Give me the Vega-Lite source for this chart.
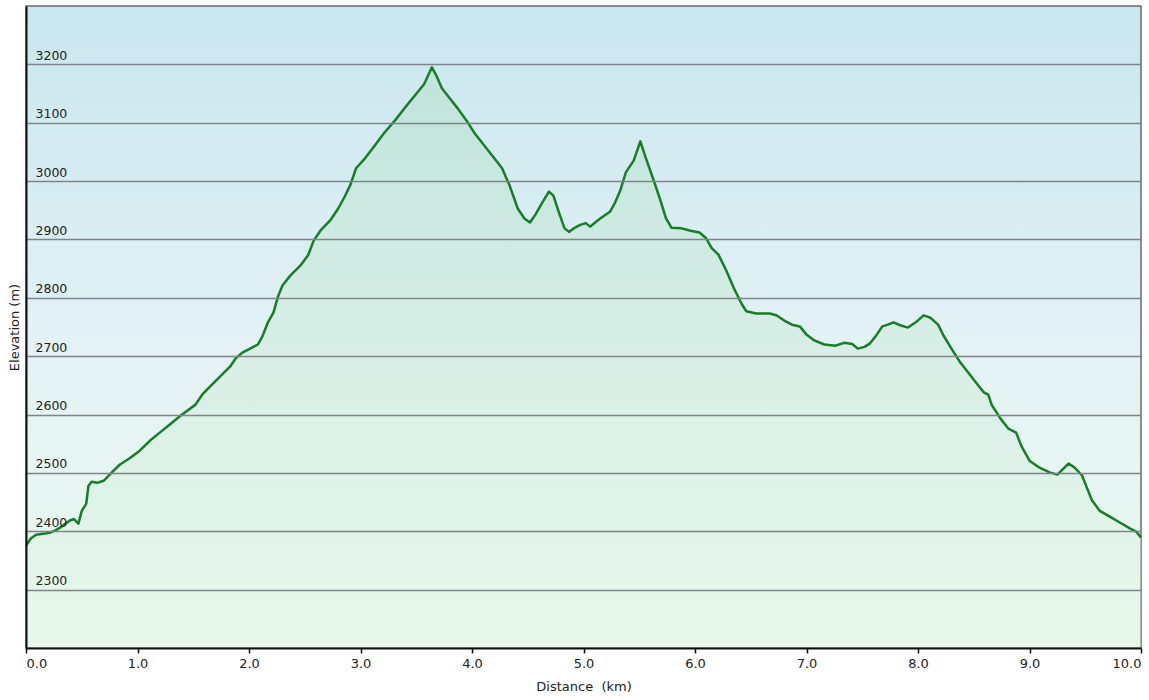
{
 "$schema": "https://vega.github.io/schema/vega-lite/v6.json",
 "width": 1115,
 "height": 642,
 "autosize": {"type": "none"},
 "padding": {"left": 26, "top": 6, "right": 8, "bottom": 52},
 "background": "white",
 "view": {
  "fill": {"gradient": "linear", "x1": 0, "y1": 0, "x2": 0, "y2": 1,
   "stops": [{"offset": 0, "color": "#c9e6ef"}, {"offset": 0.55, "color": "#e4f2f5"}, {"offset": 1, "color": "#eaf8ee"}]},
  "stroke": "#6b6b6b",
  "strokeWidth": 1.5
 },
 "config": {"font": "DejaVu Sans"},
 "data": {"values": [
  {"km":0.00,"elev":2375},{"km":0.04,"elev":2387},{"km":0.09,"elev":2394},{"km":0.17,"elev":2396},{"km":0.22,"elev":2398},
  {"km":0.26,"elev":2401},{"km":0.32,"elev":2408},{"km":0.39,"elev":2418},{"km":0.43,"elev":2421},{"km":0.47,"elev":2413},
  {"km":0.50,"elev":2435},{"km":0.54,"elev":2447},{"km":0.56,"elev":2478},{"km":0.59,"elev":2485},{"km":0.64,"elev":2483},
  {"km":0.70,"elev":2487},{"km":0.77,"elev":2501},{"km":0.84,"elev":2514},{"km":0.93,"elev":2525},{"km":1.02,"elev":2538},
  {"km":1.11,"elev":2555},{"km":1.20,"elev":2569},{"km":1.29,"elev":2583},{"km":1.38,"elev":2597},{"km":1.52,"elev":2617},
  {"km":1.58,"elev":2634},{"km":1.65,"elev":2648},{"km":1.74,"elev":2665},{"km":1.83,"elev":2682},{"km":1.88,"elev":2696},
  {"km":1.94,"elev":2706},{"km":2.01,"elev":2713},{"km":2.08,"elev":2720},{"km":2.12,"elev":2734},{"km":2.17,"elev":2758},
  {"km":2.22,"elev":2775},{"km":2.26,"elev":2802},{"km":2.30,"elev":2821},{"km":2.37,"elev":2838},{"km":2.46,"elev":2855},
  {"km":2.53,"elev":2873},{"km":2.58,"elev":2898},{"km":2.64,"elev":2915},{"km":2.73,"elev":2933},{"km":2.80,"elev":2953},
  {"km":2.86,"elev":2974},{"km":2.91,"elev":2994},{"km":2.96,"elev":3022},{"km":3.04,"elev":3039},{"km":3.12,"elev":3059},
  {"km":3.21,"elev":3082},{"km":3.31,"elev":3104},{"km":3.40,"elev":3126},{"km":3.48,"elev":3145},{"km":3.57,"elev":3166},
  {"km":3.64,"elev":3195},{"km":3.68,"elev":3181},{"km":3.73,"elev":3159},{"km":3.80,"elev":3142},{"km":3.87,"elev":3125},
  {"km":3.95,"elev":3104},{"km":4.02,"elev":3083},{"km":4.11,"elev":3061},{"km":4.20,"elev":3039},{"km":4.27,"elev":3022},
  {"km":4.34,"elev":2991},{"km":4.41,"elev":2953},{"km":4.47,"elev":2936},{"km":4.52,"elev":2929},{"km":4.57,"elev":2943},
  {"km":4.63,"elev":2963},{"km":4.69,"elev":2982},{"km":4.73,"elev":2975},{"km":4.78,"elev":2946},{"km":4.83,"elev":2919},
  {"km":4.87,"elev":2913},{"km":4.92,"elev":2920},{"km":4.97,"elev":2925},{"km":5.02,"elev":2928},{"km":5.06,"elev":2922},
  {"km":5.11,"elev":2930},{"km":5.15,"elev":2936},{"km":5.24,"elev":2948},{"km":5.28,"elev":2962},{"km":5.33,"elev":2984},
  {"km":5.38,"elev":3015},{"km":5.45,"elev":3035},{"km":5.51,"elev":3068},{"km":5.56,"elev":3039},{"km":5.63,"elev":3001},
  {"km":5.69,"elev":2967},{"km":5.74,"elev":2936},{"km":5.79,"elev":2920},{"km":5.88,"elev":2919},{"km":5.96,"elev":2915},
  {"km":6.04,"elev":2912},{"km":6.10,"elev":2902},{"km":6.15,"elev":2885},{"km":6.21,"elev":2874},{"km":6.28,"elev":2847},
  {"km":6.35,"elev":2816},{"km":6.42,"elev":2789},{"km":6.46,"elev":2777},{"km":6.55,"elev":2773},{"km":6.67,"elev":2773},
  {"km":6.73,"elev":2770},{"km":6.80,"elev":2761},{"km":6.87,"elev":2754},{"km":6.94,"elev":2751},{"km":7.00,"elev":2737},
  {"km":7.07,"elev":2727},{"km":7.16,"elev":2720},{"km":7.26,"elev":2718},{"km":7.34,"elev":2723},{"km":7.41,"elev":2721},
  {"km":7.46,"elev":2713},{"km":7.52,"elev":2716},{"km":7.57,"elev":2722},{"km":7.62,"elev":2734},{"km":7.68,"elev":2751},
  {"km":7.73,"elev":2754},{"km":7.78,"elev":2758},{"km":7.84,"elev":2753},{"km":7.91,"elev":2749},{"km":7.98,"elev":2758},
  {"km":8.05,"elev":2770},{"km":8.11,"elev":2766},{"km":8.18,"elev":2754},{"km":8.23,"elev":2735},{"km":8.30,"elev":2713},
  {"km":8.38,"elev":2689},{"km":8.45,"elev":2672},{"km":8.52,"elev":2655},{"km":8.59,"elev":2638},{"km":8.63,"elev":2634},
  {"km":8.66,"elev":2617},{"km":8.74,"elev":2593},{"km":8.81,"elev":2576},{"km":8.88,"elev":2569},{"km":8.93,"elev":2545},
  {"km":9.00,"elev":2521},{"km":9.09,"elev":2509},{"km":9.18,"elev":2501},{"km":9.25,"elev":2497},{"km":9.35,"elev":2516},
  {"km":9.40,"elev":2510},{"km":9.47,"elev":2496},{"km":9.56,"elev":2453},{"km":9.63,"elev":2435},{"km":9.72,"elev":2425},
  {"km":9.81,"elev":2415},{"km":9.90,"elev":2405},{"km":9.96,"elev":2399},{"km":10.00,"elev":2389}
 ]},
 "encoding": {
  "x": {
   "field": "km", "type": "quantitative",
   "scale": {"domain": [0, 10], "nice": false, "zero": false},
   "axis": {
    "title": "Distance \u00a0(km)",
    "values": [0,1,2,3,4,5,6,7,8,9,10],
    "format": ".1f",
    "grid": false,
    "labelFlush": true,
    "labelFontSize": 13,
    "labelColor": "#222222",
    "labelPadding": 4,
    "tickSize": 5,
    "tickColor": "#111111",
    "tickWidth": 1.5,
    "domainColor": "#111111",
    "domainWidth": 2,
    "titleFontSize": 13,
    "titleFontWeight": "normal",
    "titleColor": "#222222",
    "titleY": 32,
    "titleBaseline": "top",
    "zindex": 1
   }
  },
  "y": {
   "field": "elev", "type": "quantitative",
   "scale": {"domain": [2200, 3300], "nice": false, "zero": false},
   "axis": {
    "title": "Elevation (m)",
    "values": [2300,2400,2500,2600,2700,2800,2900,3000,3100,3200],
    "format": "d",
    "grid": true,
    "gridColor": "#7d8587",
    "gridWidth": 1.5,
    "ticks": false,
    "tickSize": 0,
    "labelAlign": "left",
    "labelPadding": -9,
    "labelBaseline": "alphabetic",
    "labelOffset": -5,
    "labelFontSize": 12.5,
    "labelColor": "#222222",
    "domainColor": "#111111",
    "domainWidth": 2,
    "titleFontSize": 13,
    "titleFontWeight": "normal",
    "titleColor": "#222222",
    "titleX": -12,
    "titleY": 321,
    "titleAngle": -90,
    "titleAlign": "center",
    "titleBaseline": "middle",
    "zindex": 1
   }
  }
 },
 "layer": [
  {
   "mark": {
    "type": "area",
    "fill": {"gradient": "linear", "x1": 0, "y1": 0, "x2": 0, "y2": 1,
     "stops": [{"offset": 0, "color": "#a8dcb8"}, {"offset": 1, "color": "#e2f6e6"}]},
    "fillOpacity": 0.38
   },
   "encoding": {"y2": {"datum": 2200}}
  },
  {
   "mark": {"type": "line", "color": "#177d27", "strokeWidth": 2.5, "strokeJoin": "round"}
  }
 ]
}
